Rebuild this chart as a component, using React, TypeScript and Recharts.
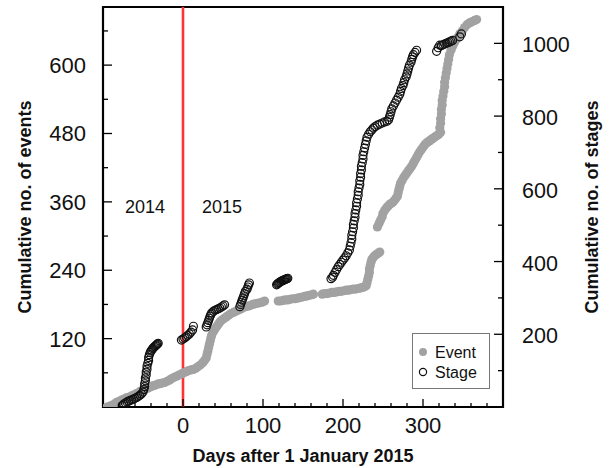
import React from 'react';
import { ScatterChart, Scatter, XAxis, YAxis, ReferenceLine, ReferenceArea, Legend, Label } from 'recharts';

// Event series (left axis): days after 1 Jan 2015, cumulative no. of events
const eventDays = [
  -95, -92, -89, -86, -83, -80, -77, -74, -71, -68, -65, -62, -59, -56, -53, -50, -47, -44, -41, -38, -35, -32, -29, -26, -23, -20, -17, -14, -11, -8, -5, -2,
  1, 4, 7, 10, 13, 16, 19, 22, 25, 27, 29, 30, 31, 32, 33, 34, 35, 36, 38, 40, 42, 44, 46, 48, 51, 54, 57, 60, 63, 66, 69, 72, 75, 78, 81, 84, 87, 90, 93, 96, 99, 102,
  119, 122, 125, 128, 131, 134, 137, 140, 143, 146, 149, 152, 155, 158, 161, 163,
  174, 177, 180, 183, 186, 189, 192, 195, 198, 201, 204, 207, 210, 213, 216, 219, 222, 225, 227, 229, 230, 231, 232, 233, 233, 234, 235, 236, 238, 240, 242, 244, 246,
  243, 245, 247, 249, 250, 252, 254, 256, 258, 260, 262, 264, 266, 268, 269, 270, 271, 272, 274, 276, 278, 280, 282, 284, 286, 288, 290, 292, 294, 296, 298, 300, 302, 304, 306, 308, 310, 312, 314, 316, 318, 320, 322,
  321, 322, 322, 323, 323, 324, 324, 325, 326, 327, 327, 328, 329, 330, 331, 332, 333, 335, 337, 339, 341, 343, 346, 349, 352, 355, 358, 361, 364, 367,
];
const eventCounts = [
  0, 1, 3, 5, 8, 10, 12, 14, 16, 17, 19, 21, 23, 25, 28, 30, 32, 33, 35, 37, 38, 40, 41, 42, 43, 45, 47, 50, 52, 54, 56, 58,
  60, 62, 64, 65, 66, 68, 71, 74, 78, 82, 86, 92, 98, 104, 110, 116, 122, 127, 132, 137, 141, 145, 149, 152, 155, 158, 161, 164, 166, 168, 170, 172, 174, 176, 177, 178, 180, 181, 182, 183, 184, 186,
  186, 186, 187, 188, 188, 189, 190, 190, 191, 192, 193, 194, 195, 196, 197, 198,
  198, 199, 199, 200, 201, 201, 202, 203, 203, 204, 205, 205, 206, 207, 207, 208, 209, 210, 211, 213, 218, 224, 230, 236, 242, 248, 254, 259, 263, 266, 268, 270, 272,
  316, 322, 328, 334, 340, 345, 349, 352, 355, 357, 359, 362, 366, 370, 376, 382, 388, 393, 398, 403, 407, 411, 415, 419, 423, 428, 433, 438, 443, 448, 452, 456, 460, 463, 465, 467, 469, 471, 473, 475, 477, 479, 482,
  490, 498, 506, 514, 522, 530, 538, 546, 554, 562, 570, 578, 586, 594, 602, 610, 618, 626, 633, 639, 644, 648, 655, 660, 666, 671, 674, 676, 678, 680,
];

// Stage series (right axis): days after 1 Jan 2015, cumulative no. of stages
const stageDays = [
  -76, -74, -72, -70, -68, -66, -64, -62, -60, -58, -56, -54, -52, -50, -49, -48, -48, -47, -47, -46, -46, -45, -45, -44, -43, -43, -42, -41, -40, -39, -38, -37, -36, -35, -34, -33, -32, -31,
  -2, 0, 2, 4, 6, 8, 10, 12, 13,
  29, 30, 31, 32, 33, 34, 35, 36, 38, 40, 42, 44, 46, 48, 50, 52,
  71, 72, 73, 74, 75, 76, 77, 78, 80, 81, 82, 83,
  117, 118, 119, 120, 121, 122, 123, 124, 125, 126, 127, 128, 129, 130, 131,
  185, 187, 188, 190, 192, 194, 196, 198, 200, 202, 204, 206, 208, 209, 210, 211, 211, 212, 213, 213, 214, 215, 215, 216, 217, 217, 218, 219, 219, 220, 221, 221, 222, 222, 223, 223, 224, 225, 225, 226, 227, 228, 229, 230, 232, 234, 236, 238, 240, 243, 246, 249, 252, 255, 257, 258, 259, 260, 261, 263, 265, 267, 269, 271, 272, 273, 275, 276, 277, 279, 280, 281, 282, 283, 285, 286, 287, 288, 290, 292,
  317, 319, 321, 323, 325, 327, 329, 331, 333, 335, 337, 346, 348,
];
const stageCounts = [
  4, 8, 11, 14, 16, 18, 20, 22, 24, 26, 29, 32, 36, 41, 48, 56, 64, 72, 80, 88, 96, 104, 112, 120, 128, 136, 144, 150, 154, 157, 160, 163, 165, 167, 169, 171, 173, 175,
  184, 187, 190, 193, 197, 201, 206, 212, 222,
  220, 226, 232, 238, 244, 250, 255, 259, 263, 266, 268, 270, 272, 275, 278, 281,
  276, 282, 288, 294, 300, 306, 312, 318, 324, 330, 336, 341,
  336, 338, 340, 342, 343, 345, 346, 347, 348, 349, 350, 351, 352, 353, 354,
  353, 357, 362, 370, 378, 386, 392, 398, 404, 410, 416, 424, 432, 442, 452, 462, 472, 482, 492, 502, 512, 522, 532, 542, 552, 562, 572, 582, 592, 602, 612, 622, 632, 642, 652, 662, 672, 682, 692, 702, 712, 722, 732, 742, 750, 757, 762, 767, 771, 775, 778, 781, 784, 786, 790, 797, 804, 812, 820, 828, 836, 844, 852, 860, 868, 876, 884, 892, 900, 908, 916, 924, 932, 940, 948, 956, 963, 969, 975, 981,
  978, 988, 995, 994, 996, 998, 1000, 1002, 1004, 1006, 1008, 1018, 1026,
];

const xTicks = [-80, -60, -40, -20, 0, 20, 40, 60, 80, 100, 120, 140, 160, 180, 200, 220, 240, 260, 280, 300, 320, 340, 360, 380];
const xMajor = [0, 100, 200, 300];
const leftTicks = [60, 120, 180, 240, 300, 360, 420, 480, 540, 600, 660];
const leftMajor = [120, 240, 360, 480, 600];
const rightTicks = [100, 200, 300, 400, 500, 600, 700, 800, 900, 1000];
const rightMajor = [200, 400, 600, 800, 1000];

const eventData = eventDays.map((d, i) => ({ x: d, y: eventCounts[i] }));
const stageData = stageDays.map((d, i) => ({ x: d, y: stageCounts[i] }));

const FONT = '"Liberation Sans", Arial, Helvetica, sans-serif';
const TXT = '#111';

const XTick = (p: any) => {
  const v = p.payload.value;
  const major = xMajor.includes(v);
  return (
    <g>
      <line x1={p.x} x2={p.x} y1={p.y} y2={p.y - (major ? 8 : 4)} stroke="#000" strokeWidth={1.3} />
      {major && (
        <text x={p.x} y={p.y + 26} textAnchor="middle" fontSize={22} fontFamily={FONT} fill={TXT}>{v}</text>
      )}
    </g>
  );
};

const LeftTick = (p: any) => {
  const v = p.payload.value;
  const major = leftMajor.includes(v);
  return (
    <g>
      <line x1={p.x} x2={p.x + (major ? 9 : 5)} y1={p.y} y2={p.y} stroke="#000" strokeWidth={1.3} />
      {major && (
        <text x={p.x - 17} y={p.y + 8} textAnchor="end" fontSize={22} fontFamily={FONT} fill={TXT}>{v}</text>
      )}
    </g>
  );
};

const RightTick = (p: any) => {
  const v = p.payload.value;
  const major = rightMajor.includes(v);
  return (
    <g>
      <line x1={p.x} x2={p.x - (major ? 9 : 5)} y1={p.y} y2={p.y} stroke="#000" strokeWidth={1.3} />
      {major && (
        <text x={p.x + 19} y={p.y + 9} textAnchor="start" fontSize={21.5} fontFamily={FONT} fill={TXT}>{v}</text>
      )}
    </g>
  );
};

const EventDot = (p: any) => <circle cx={p.cx} cy={p.cy} r={4.6} fill="#a2a2a2" />;
const StageDot = (p: any) => <circle cx={p.cx} cy={p.cy} r={4} fill="none" stroke="#111" strokeWidth={1.2} />;

const LegendBox = (props: any) => {
  const items = (props.payload || []).map((e: any) => e.value);
  const names = items.length ? items : ['Event', 'Stage'];
  return (
    <svg width={78} height={56} style={{ display: 'block' }}>
      <rect x={0.5} y={0.5} width={77} height={55} fill="#fff" stroke="#777" strokeWidth={1} />
      {names.map((n: string, i: number) => (
        <g key={n}>
          {n === 'Event' ? (
            <circle cx={11} cy={19 + i * 20} r={4} fill="#a2a2a2" />
          ) : (
            <circle cx={11} cy={19 + i * 20} r={3.6} fill="none" stroke="#111" strokeWidth={1.2} />
          )}
          <text x={23} y={25 + i * 20} fontSize={16} fontFamily={FONT} fill={TXT}>{n}</text>
        </g>
      ))}
    </svg>
  );
};

const xTitle = (p: any) => {
  const vb = p.viewBox;
  return (
    <text x={vb.x + vb.width / 2} y={vb.y + 55} textAnchor="middle" fontSize={18} fontWeight="bold" fontFamily={FONT} fill={TXT}>
      Days after 1 January 2015
    </text>
  );
};
const leftTitle = (p: any) => {
  const vb = p.viewBox;
  const x = vb.x + vb.width - 72;
  const y = vb.y + vb.height / 2;
  return (
    <text x={x} y={y} transform={`rotate(-90 ${x} ${y})`} textAnchor="middle" fontSize={18} fontWeight="bold" fontFamily={FONT} fill={TXT}>
      Cumulative no. of events
    </text>
  );
};
const rightTitle = (p: any) => {
  const vb = p.viewBox;
  const x = vb.x + 95;
  const y = vb.y + vb.height / 2;
  return (
    <text x={x} y={y} transform={`rotate(-90 ${x} ${y})`} textAnchor="middle" fontSize={18} fontWeight="bold" fontFamily={FONT} fill={TXT}>
      Cumulative no. of stages
    </text>
  );
};

export default function App() {
  return (
    <div style={{ position: 'absolute', left: 0, top: 0, background: '#fff' }}>
      <ScatterChart width={610} height={468} margin={{ top: 7, right: 47, bottom: 31, left: 43 }} style={{ fontFamily: FONT }}>
        <XAxis
          type="number"
          dataKey="x"
          domain={[-100, 400]}
          ticks={xTicks}
          interval={0}
          allowDataOverflow
          axisLine={false}
          tickLine={false}
          tickSize={0}
          tickMargin={0}
          height={30}
          tick={XTick}
          label={xTitle}
        />
        <YAxis
          yAxisId="left"
          type="number"
          dataKey="y"
          domain={[0, 702]}
          ticks={leftTicks}
          interval={0}
          allowDataOverflow
          axisLine={false}
          tickLine={false}
          tickSize={0}
          tickMargin={0}
          width={60}
          tick={LeftTick}
          label={leftTitle}
        />
        <YAxis
          yAxisId="right"
          orientation="right"
          type="number"
          dataKey="y"
          domain={[0, 1100]}
          ticks={rightTicks}
          interval={0}
          allowDataOverflow
          axisLine={false}
          tickLine={false}
          tickSize={0}
          tickMargin={0}
          width={60}
          tick={RightTick}
          label={rightTitle}
        />
        <ReferenceLine x={0} yAxisId="left" stroke="#ff3333" strokeWidth={2.6}>
          <Label value="2014" position="left" offset={18} fontSize={18} fontFamily={FONT} fill={TXT} />
          <Label value="2015" position="right" offset={19} fontSize={18} fontFamily={FONT} fill={TXT} />
        </ReferenceLine>
        <Scatter name="Event" data={eventData} yAxisId="left" shape={EventDot} isAnimationActive={false} />
        <Scatter name="Stage" data={stageData} yAxisId="right" shape={StageDot} isAnimationActive={false} />
        <ReferenceArea x1={-100} x2={400} y1={0} y2={702} yAxisId="left" fill="none" fillOpacity={0} stroke="#000" strokeWidth={2.2} />
        <Legend
          layout="vertical"
          align="center"
          verticalAlign="middle"
          wrapperStyle={{ left: 412, top: 333, width: 78, height: 56 }}
          content={LegendBox}
        />
      </ScatterChart>
    </div>
  );
}
